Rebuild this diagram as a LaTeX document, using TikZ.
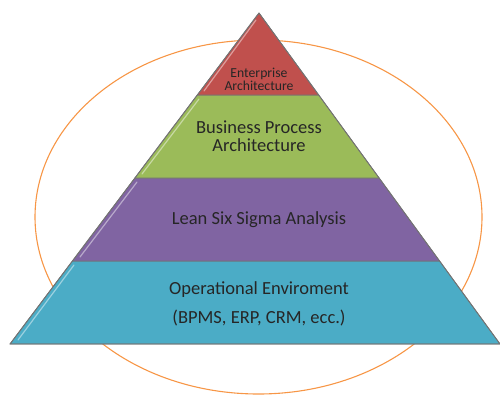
\documentclass[tikz,border=0pt]{standalone}
\usepackage{fontspec}
\setmainfont{Carlito}
\definecolor{eaRed}{HTML}{C0504D}
\definecolor{bpGreen}{HTML}{9BBB59}
\definecolor{lssPurple}{HTML}{8064A2}
\definecolor{opCyan}{HTML}{4BACC6}
\definecolor{ringOrange}{HTML}{F79646}
\begin{document}
\begin{tikzpicture}[x=1pt, y=-1pt,
        level/.style={draw=black!55, line width=0.8pt, line join=round},
        gloss/.style={white, opacity=0.45, line width=1.2pt, line cap=round},
        label/.style={align=center, text=black!85, inner sep=0pt}
    ]
        \useasboundingbox (0,0) rectangle (500,396);

        % Anello esterno
        \draw[ringOrange, line width=1.1pt] (258.5,217) ellipse [x radius=223.5, y radius=177];

        % Livelli della piramide
        \fill[level, fill=opCyan] (72.4,261) -- (439.6,261) -- (500,344) -- (10,344) -- cycle;
        \fill[level, fill=lssPurple] (134.9,178) -- (379.1,178) -- (439.6,261) -- (72.4,261) -- cycle;
        \fill[level, fill=bpGreen] (197.3,95) -- (318.7,95) -- (379.1,178) -- (134.9,178) -- cycle;
        \fill[level, fill=eaRed] (259,13) -- (318.7,95) -- (197.3,95) -- cycle;
        \draw[level] (259,13) -- (500,344) -- (10,344) -- cycle;

        % Riflessi
        \draw[gloss] (256,20) -- (204,91);
        \draw[gloss] (199,99) -- (142,174);
        \draw[gloss] (137,182) -- (80,257);
        \draw[gloss] (74,265) -- (18,340);

        % Etichette
        \node[label, font=\fontsize{13.7}{13}\selectfont] (ea) at (259,79) {Enterprise\\Architecture};
        \node[label, font=\fontsize{18.5}{18.5}\selectfont] (bpa) at (259,136) {Business Process\\Architecture};
        \node[label, font=\fontsize{18.5}{20}\selectfont] (lss) at (259,220) {Lean Six Sigma Analysis};
        \node[label, font=\fontsize{18.5}{20}\selectfont] (op) at (259,290) {Operational Enviroment};
        \node[label, font=\fontsize{18.5}{20}\selectfont] (tools) at (259,318) {(BPMS, ERP, CRM, ecc.)};
    \end{tikzpicture}
\end{document}
